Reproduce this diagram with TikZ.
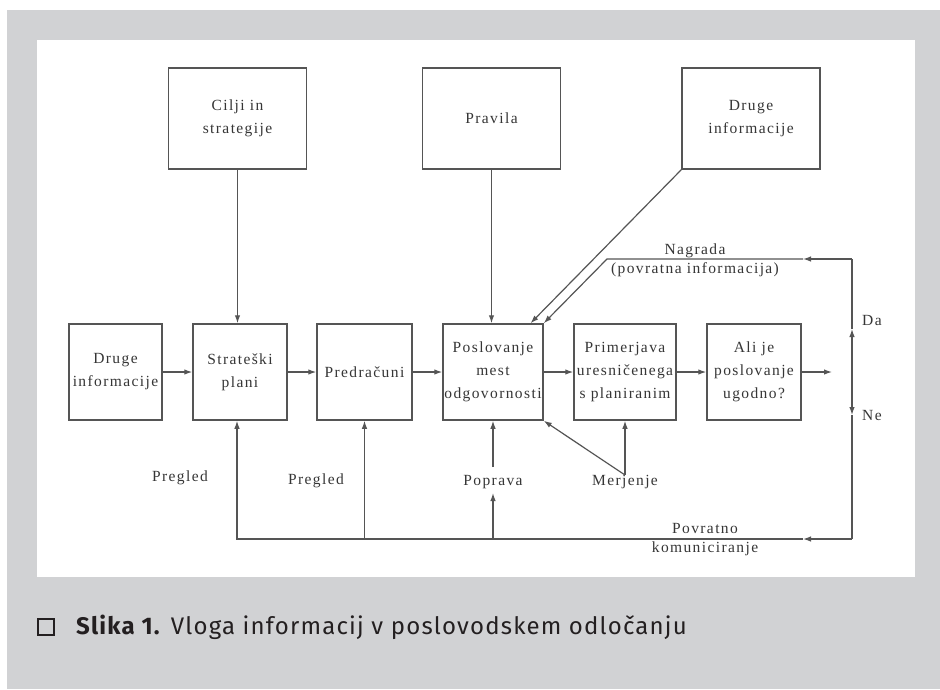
\documentclass[tikz,border=0pt]{standalone}
\usepackage{fontspec}
\setmainfont{Liberation Serif}
\newfontfamily\diafont[LetterSpace=9]{Liberation Serif}
\newfontfamily\capfont[LetterSpace=5]{Fira Sans}
\usetikzlibrary{arrows.meta,calc}
\definecolor{okvir}{HTML}{D1D2D4}
\definecolor{crta}{HTML}{555555}
\definecolor{besedilo}{HTML}{363636}
\definecolor{napis}{HTML}{231F20}
\begin{document}
\begin{tikzpicture}[x=1pt,y=-1pt,
    box/.style={draw=crta,line width=1.5pt,minimum height=96pt,align=center,inner sep=0pt,
      text=besedilo,font={\diafont\fontsize{15.5}{23}\selectfont}},
    topbox/.style={box,minimum width=138pt,minimum height=101pt},
    lbl/.style={text=besedilo,align=center,inner sep=0pt,font={\diafont\fontsize{15.5}{19}\selectfont}},
    arr/.style={-{Latex[length=8pt,width=5.5pt]}},
    ln/.style={draw=crta,line width=1.2pt}]

    % ozadje
    \useasboundingbox (0,0) rectangle (940,689);
    \fill[okvir] (7,10) rectangle (940,689);
    \fill[white] (37,40) rectangle (915,577);

    \node[topbox] (cilji) at (237.5,118.5) {Cilji in\\strategije};
    \node[topbox] (pravila) at (491.5,118.5) {Pravila};
    \node[topbox] (drugeT) at (751,118.5) {Druge\\informacije};

    \node[box,minimum width=93pt] (drugeL) at (115.5,372) {Druge\\informacije};
    \node[box,minimum width=94pt] (strat) at (240,372) {Strateški\\plani};
    \node[box,minimum width=95pt] (pred) at (364.5,372) {Predračuni};
    \node[box,minimum width=100pt] (posl) at (493,372) {Poslovanje\\mest\\odgovornosti};
    \node[box,minimum width=102pt] (prim) at (625,372) {Primerjava\\uresničenega\\s planiranim};
    \node[box,minimum width=94pt] (alije) at (754,372) {Ali je\\poslovanje\\ugodno?};

    \coordinate (izhod) at (832,372);
    \coordinate (odl) at (852,372);
    \coordinate (da) at (852,329);
    \coordinate (ne) at (852,415);
    \coordinate (nagD) at (852,259);
    \coordinate (nagA) at (803,259);
    \coordinate (nagL) at (607,259);
    \coordinate (botD) at (852,539);
    \coordinate (botA) at (803,539);
    \coordinate (botL) at (237,539);
    \coordinate (poplD) at (493,493);
    \coordinate (poplG) at (493,467);
    \coordinate (vhodT) at ($(posl.north west)!0.87!(posl.north east)$);

    \node[lbl] (pregled1) at (180,478) {Pregled};
    \node[lbl] (pregled2) at (316,481) {Pregled};
    \node[lbl] (poprava) at (493,482) {Poprava};
    \node[lbl] (merjenje) at (625,482) {Merjenje};
    \node[lbl] (nagrada) at (695,260) {Nagrada\\(povratna informacija)};
    \node[lbl] (povratno) at (705,540) {Povratno\\komuniciranje};
    \node[lbl,anchor=west] (da lbl) at (862,320) {Da};
    \node[lbl,anchor=west] (ne lbl) at (862,415) {Ne};

    % vhodi od zgoraj
    \draw[ln,arr] (cilji.south) -- (cilji.south |- strat.north);
    \draw[ln,arr] (pravila.south) -- (pravila.south |- posl.north);
    \draw[ln,arr] (drugeT.south west) -- (vhodT);

    % glavni tok
    \draw[ln,arr] (drugeL) -- (strat);
    \draw[ln,arr] (strat) -- (pred);
    \draw[ln,arr] (pred) -- (posl);
    \draw[ln,arr] (posl) -- (prim);
    \draw[ln,arr] (prim) -- (alije);
    \draw[ln,arr] (alije) -- (izhod);

    % odlocitev
    \draw[ln,arr] (odl) -- (da);
    \draw[ln] (da) -- (nagD);
    \draw[ln,arr] (nagD) -- (nagA);
    \draw[ln,arr] (nagA) -- (nagL) -- (posl.north east);
    \draw[ln,arr] (odl) -- (ne);
    \draw[ln] (ne) -- (botD);
    \draw[ln,arr] (botD) -- (botA);
    \draw[ln,arr] (botA) -- (botL) -- (botL |- strat.south);
    \draw[ln,arr] (pred.south |- botL) -- (pred.south);
    \draw[ln,arr] (posl.south |- botL) -- (poplD);
    \draw[ln,arr] (poplG) -- (posl.south);

    % merjenje
    \draw[ln,arr] (merjenje.north) -- (prim.south);
    \draw[ln,arr] (merjenje.north) -- (posl.south east);

    % napis
    \node[draw=napis,line width=2.4pt,minimum size=16pt,inner sep=0pt] (kvadrat) at (46,627) {};
    \node[anchor=west,inner sep=0pt,text=napis,font={\capfont\fontsize{24}{28}\selectfont}] (napis) at (76,627)
      {\textbf{Slika 1.} Vloga informacij v poslovodskem odločanju};
\end{tikzpicture}
\end{document}
